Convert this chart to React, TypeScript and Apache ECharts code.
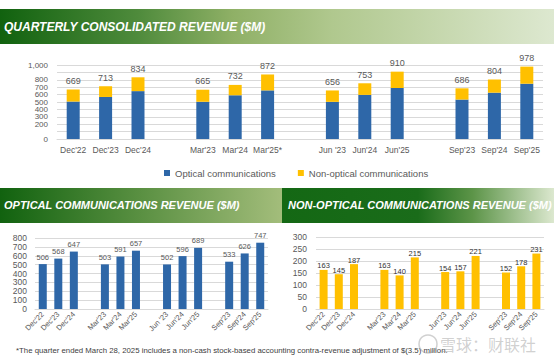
import React, { useEffect, useRef } from "react";
import * as echarts from "echarts";

const topQuarters = ["Dec'22", "Dec'23", "Dec'24", "Mar'23", "Mar'24", "Mar'25*", "Jun '23", "Jun'24", "Jun'25", "Sep'23", "Sep'24", "Sep'25"];
const leftQuarters = ["Dec'22", "Dec'23", "Dec'24", "Mar'23", "Mar'24", "Mar'25", "Jun '23", "Jun'24", "Jun'25", "Sep'23", "Sep'24", "Sep'25"];
const rightQuarters = ["Dec'22", "Dec'23", "Dec'24", "Mar'23", "Mar'24", "Mar'25", "Jun'23", "Jun'24", "Jun'25", "Sep'23", "Sep'24", "Sep'25"];
const optical = [506, 568, 647, 503, 591, 657, 502, 596, 689, 533, 626, 747];
const nonOptical = [163, 145, 187, 163, 140, 215, 154, 157, 221, 152, 178, 231];
const totals = [669, 713, 834, 665, 732, 872, 656, 753, 910, 686, 804, 978];
const topTicks = { min: 0, max: 1000, interval: 100 };
const leftTicks = { min: 0, max: 800, interval: 100 };
const rightTicks = { min: 0, max: 300, interval: 50 };

const BLUE = "#2e67a8";
const GOLD = "#ffc000";
const GRAY = "#595959";
const FONT = "Liberation Sans";

function pad<T>(arr: T[], blank: T): T[] {
  const out: T[] = [];
  arr.forEach((v, i) => {
    out.push(v);
    if (i % 3 === 2 && i < arr.length - 1) out.push(blank);
  });
  return out;
}

export default function App() {
  const ref = useRef<HTMLDivElement>(null);
  useEffect(() => {
    document.body.style.margin = "0";
    if (!ref.current) return;
    const chart = echarts.init(ref.current, undefined, { renderer: "svg" });
    const paddedTotals = pad<number | null>(totals, null);
    const gridLine = { show: true, lineStyle: { color: "#d9d9d9", width: 1 } };
    const catAxis = (gridIndex: number, data: string[], rotate: number, fontSize: number, margin: number) => ({
      type: "category",
      gridIndex,
      data: pad(data, ""),
      axisTick: { show: false },
      axisLine: { show: true, lineStyle: { color: "#d9d9d9" } },
      axisLabel: { interval: 0, rotate, color: GRAY, fontSize, fontFamily: FONT, margin, hideOverlap: false },
    });
    const valAxis = (gridIndex: number, t: { min: number; max: number; interval: number }, fontSize: number, margin: number) => ({
      type: "value",
      gridIndex,
      min: t.min,
      max: t.max,
      interval: t.interval,
      splitLine: gridLine,
      axisLine: { show: false },
      axisTick: { show: false },
      axisLabel: {
        color: GRAY,
        fontSize,
        fontFamily: FONT,
        margin,
        showMinLabel: true,
        showMaxLabel: true,
        hideOverlap: false,
        formatter: (v: number) => v.toLocaleString("en-US"),
      },
    });
    const banner = (x: number, y: number, w: number, h: number, stops: [number, string][]) => ({
      type: "rect",
      shape: { x, y, width: w, height: h },
      style: {
        fill: {
          type: "linear", x: 0, y: 0, x2: 1, y2: 0,
          colorStops: stops.map(([offset, color]) => ({ offset, color })),
        },
      },
      silent: true,
    });
    const title = (text: string, x: number, y: number, size: number) => ({
      type: "text",
      x, y,
      style: {
        text,
        fill: "#ffffff",
        fontSize: size,
        fontWeight: "bold",
        fontStyle: "italic",
        fontFamily: FONT,
        verticalAlign: "middle",
        textVerticalAlign: "middle",
      },
      silent: true,
    });
    chart.setOption({
      animation: false,
      backgroundColor: "#ffffff",
      textStyle: { fontFamily: FONT },
      grid: [
        { left: 57, right: 11, top: 65, bottom: 223 },
        { left: 35, right: 286, top: 238, bottom: 53 },
        { left: 316, right: 10, top: 237, bottom: 53 },
      ],
      legend: {
        left: 159,
        top: 163,
        icon: "rect",
        itemWidth: 6,
        itemHeight: 6,
        itemGap: 22,
        textStyle: { color: GRAY, fontSize: 9.5, fontFamily: FONT },
        data: ["Optical communications", "Non-optical communications"],
      },
      xAxis: [
        catAxis(0, topQuarters, 0, 8.5, 6),
        catAxis(1, leftQuarters, 45, 7.5, 4),
        catAxis(2, rightQuarters, 45, 7.5, 4),
      ],
      yAxis: [
        valAxis(0, topTicks, 8, 9),
        valAxis(1, leftTicks, 8.5, 8),
        valAxis(2, rightTicks, 8.5, 9),
      ],
      series: [
        {
          name: "Optical communications",
          type: "bar",
          stack: "total",
          xAxisIndex: 0,
          yAxisIndex: 0,
          barWidth: 13,
          itemStyle: { color: BLUE },
          data: pad<number | null>(optical, null),
        },
        {
          name: "Non-optical communications",
          type: "bar",
          stack: "total",
          xAxisIndex: 0,
          yAxisIndex: 0,
          barWidth: 13,
          itemStyle: { color: GOLD },
          label: {
            show: true,
            position: "top",
            distance: 4,
            color: GRAY,
            fontSize: 9,
            fontFamily: FONT,
            formatter: (p: any) => (paddedTotals[p.dataIndex] == null ? "" : String(paddedTotals[p.dataIndex])),
          },
          data: pad<number | null>(nonOptical, null),
        },
        {
          name: "Optical",
          type: "bar",
          xAxisIndex: 1,
          yAxisIndex: 1,
          barWidth: 8,
          itemStyle: { color: BLUE },
          label: { show: true, position: "top", distance: 3, color: GRAY, fontSize: 7.5, fontFamily: FONT },
          data: pad<number | null>(optical, null),
        },
        {
          name: "Non-optical",
          type: "bar",
          xAxisIndex: 2,
          yAxisIndex: 2,
          barWidth: 8,
          itemStyle: { color: GOLD },
          label: { show: true, position: "top", distance: 0, color: "#333333", fontSize: 7.5, fontFamily: FONT },
          data: pad<number | null>(nonOptical, null),
        },
      ],
      graphic: [
        banner(0, 9, 554, 35, [[0, "#11620f"], [0.25, "#4f8b3c"], [0.42, "#8fb066"], [0.6, "#b0c88e"], [1, "#dde8d0"]]),
        title("QUARTERLY CONSOLIDATED REVENUE ($M)", 4, 27, 12),
        banner(0, 188, 282, 35, [[0, "#11620f"], [0.5, "#5a9042"], [1, "#a3bd7b"]]),
        title("OPTICAL COMMUNICATIONS REVENUE ($M)", 4, 205, 11),
        banner(282, 188, 272, 35, [[0, "#146814"], [0.5, "#1a6c1a"], [0.7, "#5c9448"], [1, "#dce8cf"]]),
        title("NON-OPTICAL COMMUNICATIONS REVENUE ($M)", 288, 205, 11),
        {
          type: "text",
          x: 16,
          y: 350,
          style: {
            text: "*The quarter ended March 28, 2025 includes a non-cash stock-based accounting contra-revenue adjustment of $(3.5) million.",
            fill: "#404040",
            fontSize: 7.8,
            fontFamily: FONT,
            verticalAlign: "middle",
            textVerticalAlign: "middle",
          },
          silent: true,
        },
        {
          type: "circle",
          shape: { cx: 428, cy: 344, r: 9 },
          style: { fill: "none", stroke: "rgba(150,150,150,0.45)", lineWidth: 1.5 },
          silent: true,
        },
        {
          type: "text",
          x: 440,
          y: 344,
          style: {
            text: "雪球：财联社",
            fill: "rgba(150,150,150,0.45)",
            fontSize: 16,
            fontFamily: "Noto Sans CJK SC",
            verticalAlign: "middle",
            textVerticalAlign: "middle",
          },
          silent: true,
        },
      ],
    });
    return () => chart.dispose();
  }, []);
  return <div ref={ref} style={{ width: 554, height: 362 }} />;
}
